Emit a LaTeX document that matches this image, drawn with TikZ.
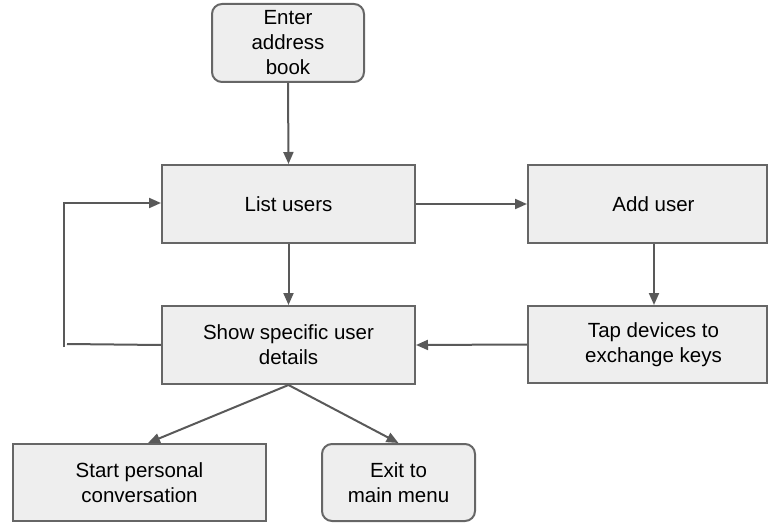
\documentclass[tikz,border=0pt]{standalone}
\usepackage{fontspec}
\setmainfont{Liberation Sans}
\usetikzlibrary{arrows.meta}
\definecolor{boxfill}{HTML}{EEEEEE}
\definecolor{boxline}{HTML}{666666}
\definecolor{arrline}{HTML}{595959}
\begin{document}
\begin{tikzpicture}[x=1pt,y=-1pt,
  box/.style={draw=boxline,fill=boxfill,line width=2pt,align=center,inner sep=0pt,
    font=\fontsize{20.5}{25}\selectfont},
  rbox/.style={box,rounded corners=10pt},
  conn/.style={draw=arrline,line width=2pt,-{Triangle[length=12pt,width=10pt]}},
  plain/.style={draw=arrline,line width=2pt}]
\useasboundingbox (0,0) rectangle (769,524);
\node[rbox,minimum width=152pt,minimum height=78pt] (enter) at (288,43) {Enter\\address\\book};
\node[box,minimum width=253pt,minimum height=78pt] (list) at (288.5,204) {List users};
\node[box,minimum width=239pt,minimum height=78pt] (add) at (647.5,204) {\hspace*{12pt}Add user};
\node[box,minimum width=253pt,minimum height=78pt] (show) at (288.5,345) {Show specific user\\details};
\node[box,minimum width=239pt,minimum height=77pt] (tap) at (647.5,344.5) {\hspace*{12pt}Tap devices to\\\hspace*{12pt}exchange keys};
\node[box,minimum width=253pt,minimum height=77pt] (start) at (139.5,482.5) {Start personal\\conversation};
\node[rbox,minimum width=153pt,minimum height=77pt] (exit) at (398.5,482.5) {Exit to\\main menu};
\coordinate (lt) at (64,203);
\coordinate (lb) at (64,347);
\coordinate (lbe) at (67,344);
\draw[conn] (enter.south) -- (list.north);
\draw[conn] (list.east) -- (add.west);
\draw[conn] (add.south -| 654,0) -- (tap.north -| 654,0);
\draw[conn] (tap.west) -- (show.east);
\draw[conn] (list.south) -- (show.north);
\draw[conn] (show.south) -- (start.north -| 148,0);
\draw[conn] (show.south) -- (exit.north);
\draw[plain] (show.west) -- (lbe);
\draw[conn] (lb) -- (lt) -- (lt -| list.west);
\end{tikzpicture}
\end{document}
